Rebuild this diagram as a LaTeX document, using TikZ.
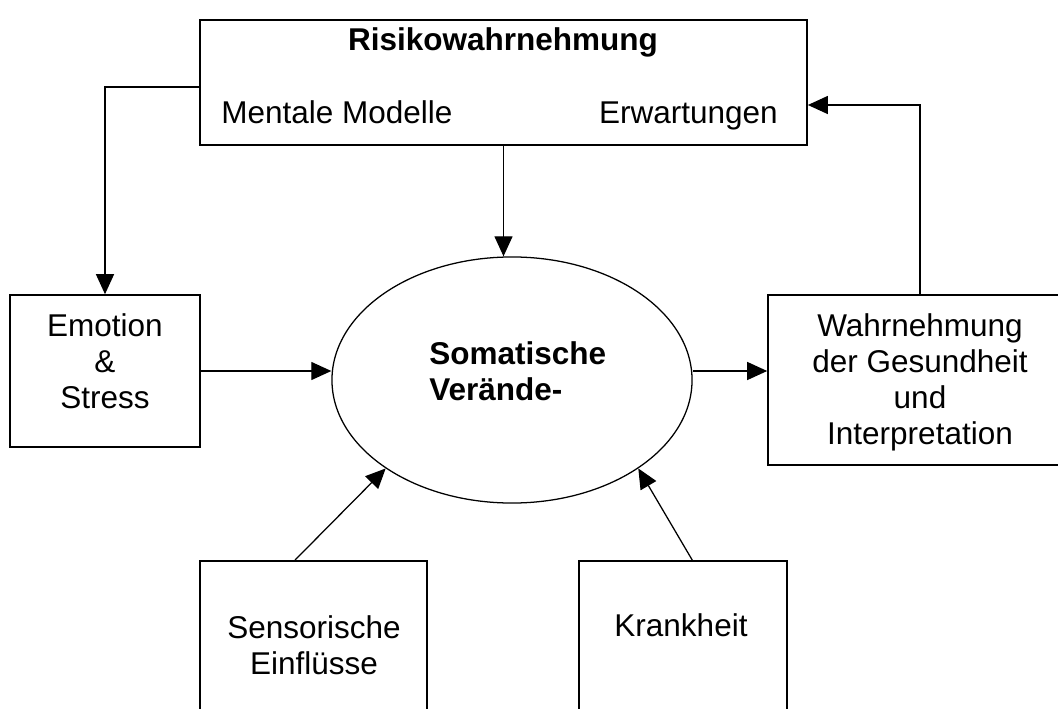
\documentclass[tikz,border=0pt]{standalone}
\usepackage{fontspec}
\setmainfont{Liberation Sans}
\usetikzlibrary{arrows.meta,shapes.geometric}

\begin{document}
\begin{tikzpicture}[x=0.025cm,y=-0.025cm,
  box/.style={draw, line width=1.1pt, inner sep=0pt},
  arr/.style={-{Triangle[length=0.5cm,width=0.45cm]}, line width=0.9pt},
  txt/.style={font=\fontsize{22.4}{25.6}\selectfont, inner sep=0pt, align=center},
  txtb/.style={font=\fontsize{22.4}{25.6}\selectfont\bfseries, inner sep=0pt}]

\useasboundingbox (0,0) rectangle (1058,709);
\clip (0,0) rectangle (1058,709);

%boxes
\node[box, minimum width=15.175cm, minimum height=3.125cm] (risk) at (503.5,82.5) {};
\node[box, minimum width=4.75cm, minimum height=3.8cm] (emo) at (105,371) {};
\node[box, minimum width=7.6cm, minimum height=4.25cm] (wahr) at (920,380) {}; % runs off the right edge
\node[box, minimum width=5.675cm, minimum height=5cm, anchor=north] (sens) at (313.5,560) {}; % cut at the bottom
\node[box, minimum width=5.2cm, minimum height=5cm, anchor=north] (krank) at (683,560) {};

%ellipse
\node[draw, ellipse, line width=0.9pt, inner sep=0pt,
      minimum width=9cm, minimum height=6.15cm] (soma) at (512,380) {};

%labels
\node[txtb, anchor=base] (risktitle) at (503,51) {Risikowahrnehmung};
\node[txt, anchor=base west] (mental) at (221,124) {Mentale Modelle};
\node[txt, anchor=base east] (erw) at (778,124) {Erwartungen};
\node[txt] (emotxt) at (105,361) {Emotion\\\&\\Stress};
\node[txtb, align=left, anchor=west] (somatxt) at (429,371) {Somatische\\Verände-};
\node[txt] (wahrtxt) at (920,382) {Wahrnehmung\\der Gesundheit\\und\\Interpretation};
\node[txt] (senstxt) at (314,645) {Sensorische\\Einflüsse};
\node[txt, anchor=base] (kranktxt) at (681,636) {Krankheit};

%arrows
\draw[arr] ([yshift=-0.11cm]risk.west) -| (emo.north);
\draw[arr] (risk.south) -- (risk.south |- soma.north);
\draw[arr] (emo.east) -- (emo.east -| soma.west);
\draw[arr] (soma.east |- emo.east) -- (wahr.west |- emo.east);
\draw[arr] ([xshift=-0.46cm]sens.north) -- (soma.215);
\draw[arr] ([xshift=0.23cm]krank.north) -- (soma.-35);
\draw[arr] (wahr.north) |- ([yshift=-0.5625cm]risk.east);
\end{tikzpicture}
\end{document}
